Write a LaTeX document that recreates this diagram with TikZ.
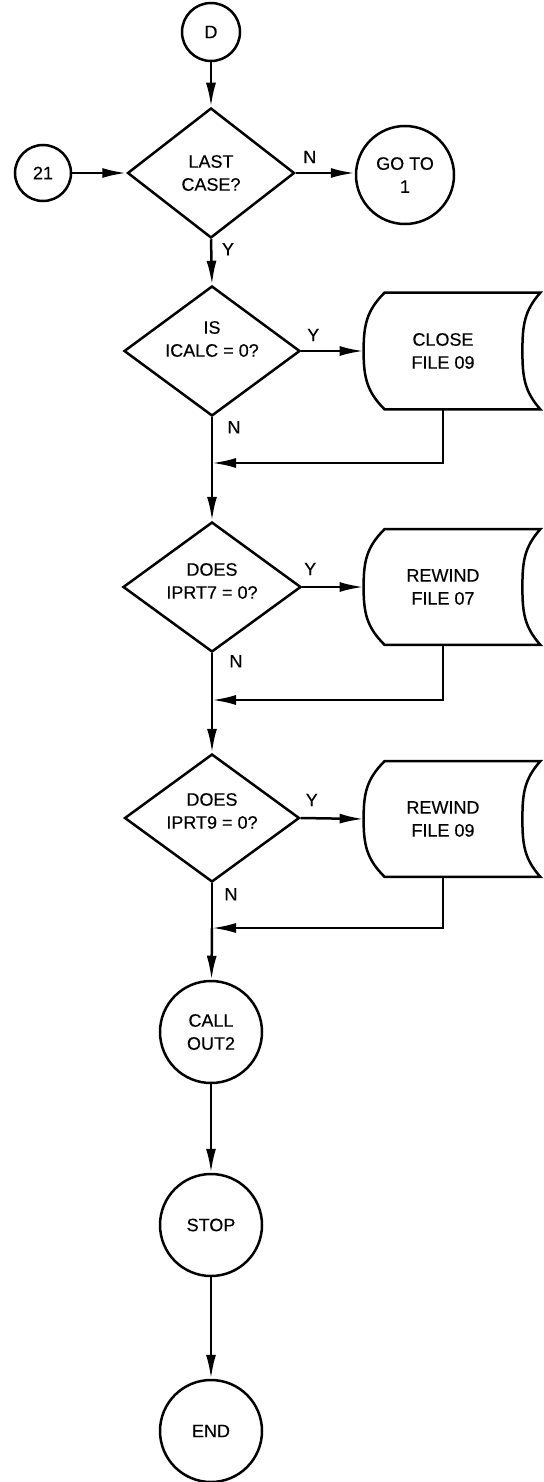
\documentclass[tikz,border=0pt]{standalone}
\usepackage{fontspec}
\setmainfont{Liberation Sans}[BoldFont={Liberation Sans},BoldFeatures={FakeBold=0.3}]
\usetikzlibrary{shapes.geometric,arrows.meta}
\begin{document}
\begin{tikzpicture}[x=0.5pt,y=-0.5pt,
  font=\fontsize{9}{11.5}\selectfont\bfseries,
  line/.style={line width=1.25pt,line join=miter},
  flow/.style={line,-{Latex[length=12pt,width=5pt]}},
  term/.style={circle,draw,line width=1.25pt,inner sep=0pt,align=center},
  decision/.style={diamond,draw,line width=1.25pt,inner sep=0pt},
  txt/.style={align=center,inner sep=0pt},
  storebox/.style={rectangle,draw=none,inner sep=0pt,align=center,
    minimum width=79pt},
  lbl/.style={inner sep=0pt}]
\useasboundingbox (0,0) rectangle (543,1482);

% main column
\node[term,minimum size=29pt] (D) at (211,32) {D};
\node[decision,minimum width=83.5pt,minimum height=65pt,
  label={[txt]center:{LAST\\CASE?}}] (d1) at (211,173) {};
\node[term,minimum size=28pt] (c21) at (43,173) {21};
\node[term,minimum size=49pt] (goto) at (405,175) {GO TO\\1};

\node[decision,minimum width=88pt,minimum height=65pt,
  label={[txt,yshift=6pt]center:{IS\\ICALC = 0?}}] (d2) at (212,351) {};
\node[storebox,minimum height=58pt] (b1) at (443,351) {CLOSE\\FILE 09};
\coordinate (j1) at (212,463);

\node[decision,minimum width=89pt,minimum height=65pt,
  label={[txt,yshift=3pt]center:{DOES\\IPRT7 = 0?}}] (d3) at (212,587) {};
\node[storebox,minimum height=57.5pt] (b2) at (443,587) {REWIND\\FILE 07};
\coordinate (j2) at (212,700);

\node[decision,minimum width=87.5pt,minimum height=64pt,
  label={[txt,yshift=3.5pt]center:{DOES\\IPRT9 = 0?}}] (d4) at (212,818) {};
\node[storebox,minimum height=57.5pt] (b3) at (443,819) {REWIND\\FILE 09};
\coordinate (j3) at (212,928);

\node[term,minimum size=51pt] (call) at (211,1032) {CALL\\OUT2};
\node[term,minimum size=51pt] (stop) at (211,1225) {STOP};
\node[term,minimum size=51pt] (end) at (211,1431) {END};

% stored-data outlines
\foreach \b in {b1,b2,b3}{
  \draw[line] ([xshift=10.5pt]\b.north west) -- ([xshift=9pt]\b.north east)
    .. controls ([xshift=1pt,yshift=-9pt]\b.north east) and ([yshift=13pt]\b.east) .. (\b.east)
    .. controls ([yshift=-13pt]\b.east) and ([xshift=1pt,yshift=9pt]\b.south east) .. ([xshift=9pt]\b.south east)
    -- ([xshift=10.5pt]\b.south west)
    .. controls ([xshift=1.5pt,yshift=9pt]\b.south west) and ([yshift=-13pt]\b.west) .. (\b.west)
    .. controls ([yshift=13pt]\b.west) and ([xshift=1.5pt,yshift=-9pt]\b.north west) .. cycle;
}

% branch labels
\node[lbl] (n1) at ([xshift=7pt,yshift=8pt]d1.east) {N};
\node[lbl] (y1) at ([xshift=8.5pt,yshift=-5pt]d1.south) {Y};
\node[lbl] (y2) at ([xshift=6pt,yshift=8pt]d2.east) {Y};
\node[lbl] (n2) at ([xshift=11pt,yshift=-5pt]d2.south) {N};
\node[lbl] (y3) at ([xshift=4pt,yshift=9pt]d3.east) {Y};
\node[lbl] (n3) at ([xshift=12pt,yshift=-4pt]d3.south) {N};
\node[lbl] (y4) at ([xshift=5.5pt,yshift=9pt]d4.east) {Y};
\node[lbl] (n4) at ([xshift=9.5pt,yshift=-5.5pt]d4.south) {N};

% connectors
\draw[flow] (D) -- (d1.north);
\draw[flow] (c21) -- (d1.west);
\draw[flow] (d1.east) -- (d1.east -| goto.west);
\draw[flow] (d1.south) -- (d2.north);

\draw[flow] (d2.east) -- (b1.west);
\draw[line] (d2.south) -- (j1);
\draw[flow] (b1.south) -- (b1.south |- j1) -- (j1);
\draw[flow] (j1) -- (d3.north);

\draw[flow] (d3.east) -- (b2.west);
\draw[line] (d3.south) -- (j2);
\draw[flow] (b2.south) -- (b2.south |- j2) -- (j2);
\draw[flow] (j2) -- (d4.north);

\draw[flow] (d4.east) -- (b3.west);
\draw[line] (d4.south) -- (j3);
\draw[flow] (b3.south) -- (b3.south |- j3) -- (j3);
\draw[flow] (j3) -- (call);

\draw[flow] (call) -- (stop);
\draw[flow] (stop) -- (end);
\end{tikzpicture}
\end{document}
